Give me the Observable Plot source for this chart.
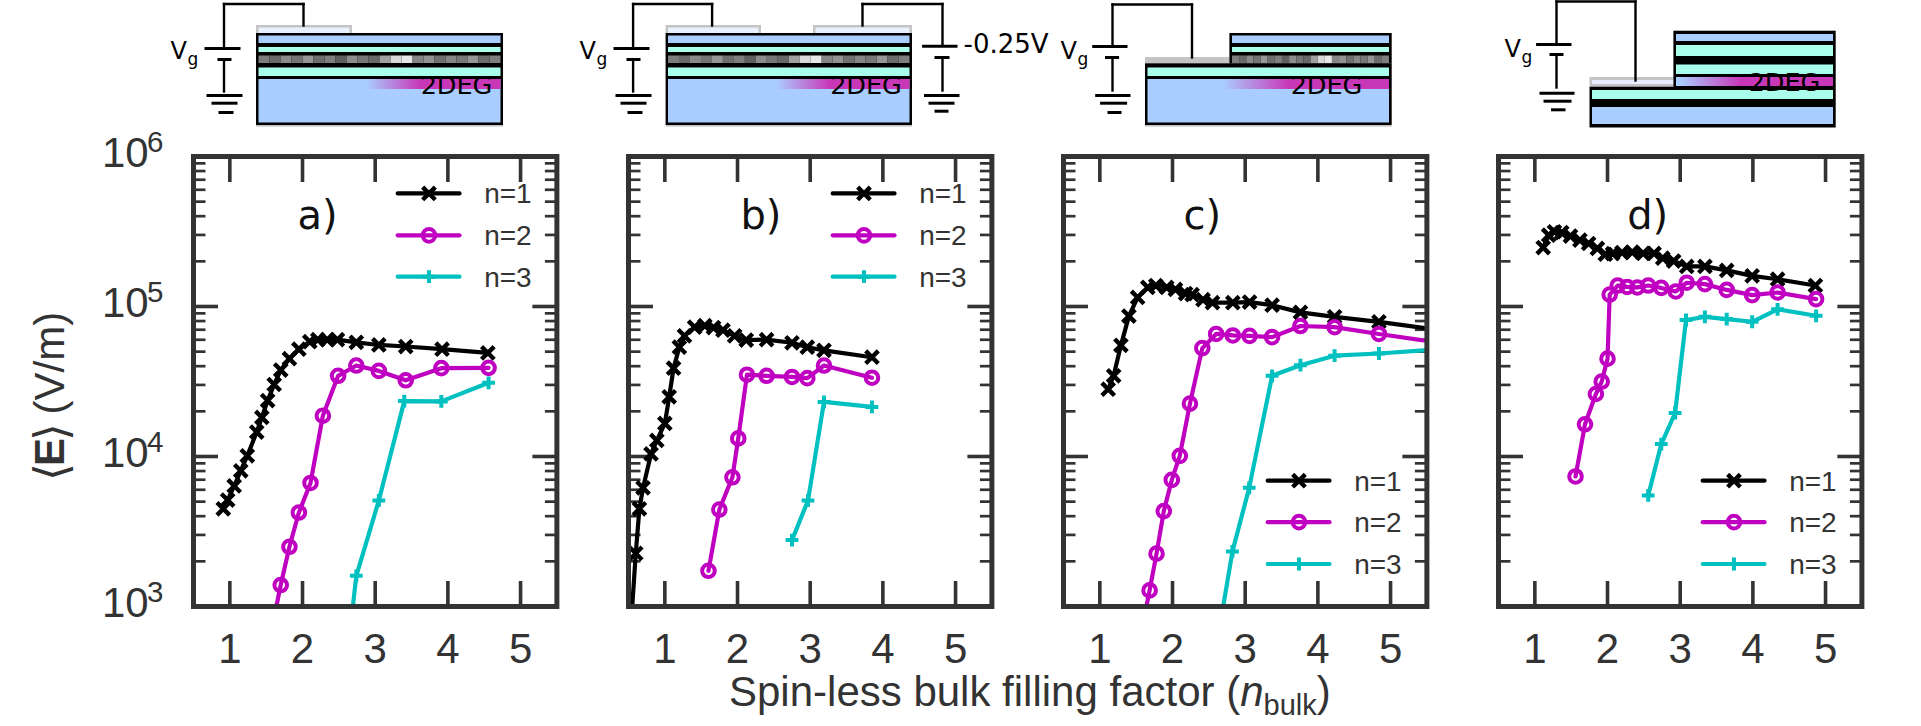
<!DOCTYPE html>
<html><head><meta charset="utf-8">
<script src="https://cdn.jsdelivr.net/npm/d3@7"></script>
<script src="https://cdn.jsdelivr.net/npm/@observablehq/plot@0.6"></script>
<style>
html,body{margin:0;padding:0;background:#fff}
#page{position:relative;width:1921px;height:726px;overflow:hidden;background:#fff}
#page svg{position:absolute;overflow:visible;background:transparent}
.lab{position:absolute;font-family:"Liberation Sans",Arial,sans-serif;color:#333;white-space:nowrap;line-height:1}
</style></head><body><div id="page"></div>
<script>
// ---------- chart data: [filling factor, <E> in V/m]
const a_n1=[[0.91,4480],[0.97,5120],[1.06,6360],[1.15,8030],[1.24,10100],[1.37,14550],[1.44,18200],[1.52,23600],[1.61,30200],[1.70,37700],[1.82,44900],[1.95,51900],[2.10,58300],[2.21,60100],[2.34,60100],[2.48,60100],[2.74,57700],[3.05,55400],[3.42,54100],[3.92,51900],[4.55,49000]];
const a_n2=[[1.58,720],[1.70,1390],[1.82,2500],[1.95,4230],[2.11,6660],[2.28,18700],[2.49,34500],[2.74,40400],[3.05,37200],[3.42,32200],[3.91,38800],[4.56,39000]];
const a_n3=[[2.67,800],[2.74,1600],[3.05,5090],[3.40,23400],[3.91,23300],[4.56,31000]];
const b_n1=[[0.53,700],[0.60,2260],[0.65,4480],[0.70,6180],[0.81,10400],[0.89,12800],[1.00,16600],[1.06,25000],[1.12,38800],[1.20,53500],[1.27,63700],[1.41,72800],[1.55,74500],[1.67,72400],[1.80,69500],[1.96,63700],[2.12,59700],[2.40,60100],[2.75,57300],[2.96,53500],[3.19,51000],[3.85,45900]];
const b_n2=[[1.60,1730],[1.75,4430],[1.93,7270],[2.01,13200],[2.13,35100],[2.40,34500],[2.75,33900],[2.96,33300],[3.19,40400],[3.85,33500]];
const b_n3=[[2.75,2770],[2.97,5090],[3.19,23100],[3.85,21400]];
const c_n1=[[1.115,28100],[1.19,34500],[1.29,55100],[1.40,86300],[1.52,115000],[1.66,134000],[1.77,138000],[1.92,134000],[2.04,130000],[2.18,122000],[2.27,120000],[2.42,111000],[2.55,106000],[2.83,106000],[3.06,107000],[3.37,102000],[3.76,91400],[4.23,85300],[4.84,79000],[5.6,70500]];
const c_n2=[[1.60,800],[1.685,1280],[1.78,2250],[1.88,4320],[1.99,6980],[2.10,10100],[2.24,22500],[2.41,52800],[2.60,65600],[2.83,64100],[3.06,63700],[3.37,62500],[3.76,74100],[4.23,72800],[4.84,65600],[5.6,58000]];
const c_n3=[[2.62,600],[2.825,2330],[3.055,6180],[3.37,34500],[3.76,40600],[4.23,47000],[4.84,48600],[5.6,51500]];
const d_n1=[[1.115,247000],[1.19,299000],[1.27,315000],[1.37,311000],[1.49,295000],[1.62,277000],[1.74,263000],[1.86,244000],[1.97,223000],[2.07,225000],[2.20,229000],[2.34,230000],[2.49,226000],[2.64,226000],[2.76,210000],[2.91,201000],[3.09,185000],[3.34,185000],[3.64,174000],[3.99,160000],[4.34,152000],[4.86,138000]];
const d_n2=[[1.56,7360],[1.69,16400],[1.84,26100],[1.92,31600],[2.00,44900],[2.03,120000],[2.14,138000],[2.27,135000],[2.41,134000],[2.56,138000],[2.74,133000],[2.94,126000],[3.09,144000],[3.34,141000],[3.64,129000],[3.99,119000],[4.34,124000],[4.87,112000]];
const d_n3=[[2.56,5500],[2.74,12100],[2.93,19500],[3.08,81300],[3.34,85300],[3.64,82400],[3.99,79100],[4.34,95800],[4.87,86700]];

const seriesNames=["n=1","n=2","n=3"];
const xTicks=[1,2,3,4,5];
const yMajor=[1e3,1e4,1e5,1e6];
const yMinor=[2,3,4,5,6,7,8,9].flatMap(m=>[1e3,1e4,1e5].map(d=>m*d));
const legendHigh=[567000,298000,158000];
const legendLow=[6900,3650,1920];
const panelNames=["a)","b)","c)","d)"];
const panelLabelX=[1.93,2.04,2.15,2.27];
const panelLeft=[192.5,627.7,1062.7,1497.5];

const colors=["#000000","#c000c0","#00c0c0"];
const symbols=[{symbol:"times",r:5.8,strokeWidth:4.4},{symbol:"circle",r:6.3,strokeWidth:4},{symbol:"plus",r:4.2,strokeWidth:4}];
const panels=[[a_n1,a_n2,a_n3],[b_n1,b_n2,b_n3],[c_n1,c_n2,c_n3],[d_n1,d_n2,d_n3]];
const legends=[legendHigh,legendHigh,legendLow,legendLow];
const FW=363.4, FH=450, ML=100, MT=6, MB=60;
const ink="#333";
const page=document.getElementById("page");

function seriesMarks(data,i){
  const common={x:d=>d[0],y:d=>d[1],clip:true};
  return [Plot.line(data,{...common,stroke:colors[i],strokeWidth:4.2,curve:"linear"}),
          Plot.dot(data,{...common,stroke:colors[i],fill:"none",...symbols[i]})];
}
function legendMarks(ys){
  return seriesNames.flatMap((name,i)=>{
    const row=[{name,y:ys[i]}];
    return [
      Plot.link(row,{x1:()=>3.31,x2:()=>4.16,y1:"y",y2:"y",stroke:colors[i],strokeWidth:4.2,strokeLinecap:"round"}),
      Plot.dot(row,{x:()=>3.74,y:"y",stroke:colors[i],fill:"none",...symbols[i]}),
      Plot.text(row,{x:()=>4.5,y:"y",text:"name",textAnchor:"start",fontSize:28,fill:ink,fontFamily:"Liberation Sans",dy:1})
    ];
  });
}
panels.forEach((series,p)=>{
  const marks=[
    Plot.axisX({anchor:"bottom",ticks:xTicks,tickSize:-25,strokeWidth:3.6,stroke:ink,text:null,label:null}),
    Plot.axisX({anchor:"top",ticks:xTicks,tickSize:-25,strokeWidth:3.6,stroke:ink,text:null,label:null}),
    Plot.axisX({anchor:"bottom",ticks:xTicks,tickSize:0,tickPadding:27,tickFormat:d=>String(d),fontSize:42,fill:ink,fontFamily:"Liberation Sans",label:null,lineAnchor:"top"}),
    Plot.axisY({anchor:"left",ticks:yMajor,tickSize:-25,strokeWidth:3.6,stroke:ink,text:null,label:null}),
    Plot.axisY({anchor:"right",ticks:yMajor,tickSize:-25,strokeWidth:3.6,stroke:ink,text:null,label:null}),
    Plot.axisY({anchor:"left",ticks:yMinor,tickSize:-12.5,strokeWidth:2.7,stroke:ink,text:null,label:null}),
    Plot.axisY({anchor:"right",ticks:yMinor,tickSize:-12.5,strokeWidth:2.7,stroke:ink,text:null,label:null}),
    ...series.flatMap(seriesMarks),
    ...legendMarks(legends[p]),
    Plot.text([panelNames[p]],{x:()=>panelLabelX[p],y:()=>330000,text:d=>d,textAnchor:"start",lineAnchor:"bottom",fontSize:40,fill:"#111",fontFamily:"DejaVu Sans",letterSpacing:"0.09em"}),
    Plot.frame({stroke:ink,strokeWidth:5})
  ];
  if(p===0){
    marks.push(
      Plot.text(yMajor,{y:d=>d,frameAnchor:"left",dx:-91.5,dy:11,text:()=>"10",textAnchor:"start",lineAnchor:"bottom",fontSize:42,fill:ink,fontFamily:"Liberation Sans"}),
      Plot.text(yMajor,{y:d=>d,frameAnchor:"left",dx:-46.5,dy:-4,text:d=>String(Math.round(Math.log10(d))),textAnchor:"start",lineAnchor:"bottom",fontSize:29.5,fill:ink,fontFamily:"Liberation Sans"})
    );
  }
  const svg=Plot.plot({
    width:ML+FW+10,height:MT+FH+MB,marginLeft:ML,marginRight:10,marginTop:MT,marginBottom:MB,
    x:{domain:[0.5,5.5]},y:{type:"log",domain:[1e3,1e6]},marks
  });
  svg.style.left=(panelLeft[p]-ML)+"px";
  svg.style.top=(155.7-MT)+"px";
  page.appendChild(svg);
});

// ---------- device schematics above the panels
const BL="#a9cdff",MN="#a9ffec",K="#000000",LT="#e8f0ff",GR="#c4c4c4";
const greys=["#7c7c7c","#6a6a6a","#8a8a8a","#747474","#969696","#6e6e6e","#7e7e7e","#5f5f5f","#8c8c8c","#767676","#686868","#a0a0a0","#d8d8d8","#e8e8e8","#868686","#929292","#707070","#868686","#787878","#969696","#6c6c6c","#7e7e7e"];
// fill rectangles of each device: [x1,x2,y1,y2,fill]
const devA=[[256,352,25,33,GR],[258.5,349.5,27.5,33,LT],[256,503,125,126.6,GR],[256,503,33,125,K],[258.5,500.5,35.5,43,BL],[258.5,500.5,47,52,MN],[258.5,500.5,67.5,76,MN],[258.5,500.5,79,122.5,BL]];
const devB=[[665.6,761,25,33,GR],[668,758.5,27.5,33,LT],[813,912,25,33,GR],[815.5,909.5,27.5,33,LT],[665.6,912,125,126.6,GR],[665.6,912,33,125,K],[668,909.5,35.5,43,BL],[668,909.5,47,52,MN],[668,909.5,67.5,76,MN],[668,909.5,79,122.5,BL]];
const devC=[[1145,1229.4,57,63.5,GR],[1145,1391.7,125,126.6,GR],[1229.4,1391.7,33,63.5,K],[1145,1391.7,63.3,125,K],[1232,1389,35.5,43,BL],[1232,1389,47,52,MN],[1147.5,1389,67.5,76,MN],[1147.5,1389,79,122.5,BL]];
const devD=[[1589.5,1673.4,77,86.7,GR],[1592,1673.4,80,84,LT],[1673.4,1835.7,30.7,87,K],[1589.5,1835.7,86.7,127.5,K],[1676,1833,34,41,BL],[1676,1833,45,56,MN],[1676,1833,64.5,74,MN],[1676,1833,77,86,BL],[1592,1833,90,99,MN],[1592,1833,107,124,BL]];
const rects=[...devA,...devB,...devC,...devD];
// grey noisy layer: [x1,x2,y1,y2]
const noiseStrips=[[258.5,500.5,55.5,63],[668,909.5,55.5,63],[1232,1389,55.5,63]];
// 2DEG stripe: [x1,x2,y1,y2]
const stripes=[[367,500.5,79,89],[776.5,909.5,79,89],[1223,1389,79,89],[1680,1833,77,86]];
// wires: [x1,y1,x2,y2]
const wires=[[223.5,3.5,303,3.5],[223.5,3.5,223.5,47],[303,3.5,303,25],[223.5,59,223.5,91],
 [632.6,3.5,711.6,3.5],[632.6,3.5,632.6,47],[711.6,3.5,711.6,25],[632.6,59,632.6,91],
 [862,3.5,942,3.5],[862,3.5,862,25],[942,3.5,942,45],[942,57,942,90],
 [1112,4,1191.5,4],[1112,4,1112,46],[1191.5,4,1191.5,57],[1112,57,1112,90],
 [1556,1,1635,1],[1556,1,1556,44],[1635,1,1635,80],[1556,54,1556,87]];
const plates=[[204,240,48],[217,231,59],[206,242,95],[211,237,102.7],[218,233,112],
 [613,649,48],[626,640,59],[615,651,95],[620,646,102.7],[627,642,112],
 [921.6,957,45.7],[934,949,57],[923.5,959,95],[928,954,102.7],[934,948,110.7],
 [1091.7,1127,46],[1104.5,1118.6,57],[1094.7,1130,95],[1099.6,1126.6,102.7],[1107,1121,112],
 [1535.6,1571,44],[1549,1563,54],[1539,1574,92.7],[1543,1571,100.7],[1550.5,1565,109.3]];
const vgV=[[170,58],[579,58],[1060,58],[1504,56]];
const deg=[[456,93],[865.5,93],[1326,93],[1784,90]];
const noiseCells=noiseStrips.flatMap(([x1,x2,y1,y2])=>greys.map((g,i)=>({x1:x1+(x2-x1)*i/greys.length,x2:x1+(x2-x1)*(i+1)/greys.length,y1,y2,g})));
const defs=()=>{
  const s=d3.create("svg:defs"),g=s.append("linearGradient").attr("id","g2deg");
  g.append("stop").attr("offset","0").attr("stop-color","#c837b8").attr("stop-opacity",0);
  g.append("stop").attr("offset","0.4").attr("stop-color","#c837b8").attr("stop-opacity",1);
  return s.node();
};
const sketch=Plot.plot({
  width:1921,height:135,margin:0,
  x:{domain:[0,1921],range:[0,1921],axis:null},
  y:{domain:[0,135],range:[0,135],axis:null},
  color:{type:"identity"},
  marks:[
    defs,
    Plot.rect(rects,{x1:d=>d[0],x2:d=>d[1],y1:d=>d[2],y2:d=>d[3],fill:d=>d[4]}),
    Plot.rect(noiseCells,{x1:"x1",x2:"x2",y1:"y1",y2:"y2",fill:"g"}),
    Plot.rect(stripes,{x1:d=>d[0],x2:d=>d[1],y1:d=>d[2],y2:d=>d[3],fill:"url(#g2deg)"}),
    Plot.link(wires,{x1:d=>d[0],y1:d=>d[1],x2:d=>d[2],y2:d=>d[3],stroke:K,strokeWidth:2.4,strokeLinecap:"square"}),
    Plot.link(plates,{x1:d=>d[0],x2:d=>d[1],y1:d=>d[2],y2:d=>d[2],stroke:K,strokeWidth:3}),
    Plot.text(vgV,{x:d=>d[0],y:d=>d[1],text:()=>"V",textAnchor:"start",lineAnchor:"bottom",fontSize:24,fontFamily:"DejaVu Sans",fill:K}),
    Plot.text(vgV,{x:d=>d[0]+17,y:d=>d[1]+6,text:()=>"g",textAnchor:"start",lineAnchor:"bottom",fontSize:17,fontFamily:"DejaVu Sans",fill:K}),
    Plot.text(deg,{x:d=>d[0],y:d=>d[1],text:()=>"2DEG",textAnchor:"middle",lineAnchor:"bottom",fontSize:25.5,fontFamily:"DejaVu Sans",fill:K}),
    Plot.text([[963,52]],{x:d=>d[0],y:d=>d[1],text:()=>"-0.25V",textAnchor:"start",lineAnchor:"bottom",fontSize:26,fontFamily:"DejaVu Sans",fill:K})
  ]
});
sketch.style.left="0";sketch.style.top="0";
page.appendChild(sketch);

// ---------- axis titles
const xl=document.createElement("div");xl.className="lab";
xl.style.cssText="left:729px;top:671px;font-size:42px";
xl.innerHTML='Spin-less bulk filling factor (<i>n</i><sub style="font-size:29px;line-height:0">bulk</sub>)';
page.appendChild(xl);
const yl=document.createElement("div");yl.className="lab";
yl.style.cssText="left:24.5px;top:478px;font-size:42px;transform-origin:0 0;transform:rotate(-90deg)";
yl.innerHTML='<span style="font-family:DejaVu Sans;font-size:46px;position:relative;top:3px;margin:0 -3px">⟨</span><b>E</b><span style="font-family:DejaVu Sans;font-size:46px;position:relative;top:3px;margin:0 -3px">⟩</span> (V/m)';
page.appendChild(yl);
</script></body></html>
